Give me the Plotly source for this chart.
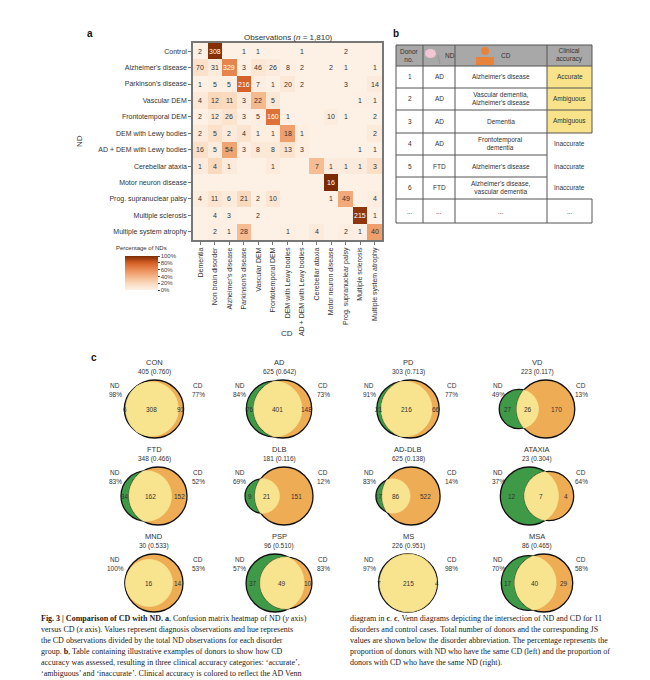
import math
import numpy as np
import plotly.graph_objects as go

# ---------------- data ----------------
cd_labels = ["Dementia", "Non brain disorder", "Alzheimer's disease", "Parkinson's disease",
             "Vascular DEM", "Frontotemporal DEM", "DEM with Lewy bodies", "AD + DEM with Lewy bodies",
             "Cerebellar ataxia", "Motor neuron disease", "Prog. supranuclear palsy",
             "Multiple sclerosis", "Multiple system atrophy"]
nd_labels = ["Control", "Alzheimer's disease", "Parkinson's disease", "Vascular DEM",
             "Frontotemporal DEM", "DEM with Lewy bodies", "AD + DEM with Lewy bodies",
             "Cerebellar ataxia", "Motor neuron disease", "Prog. supranuclear palsy",
             "Multiple sclerosis", "Multiple system atrophy"]
row_control = [2, 308, 0, 1, 1, 0, 0, 1, 0, 0, 2, 0, 0]
row_ad = [70, 31, 329, 3, 46, 26, 8, 2, 0, 2, 1, 0, 1]
row_pd = [1, 5, 5, 216, 7, 1, 20, 2, 0, 0, 3, 0, 14]
row_vd = [4, 12, 11, 3, 22, 5, 0, 0, 0, 0, 0, 1, 1]
row_ftd = [2, 12, 26, 3, 5, 160, 1, 0, 0, 10, 1, 0, 2]
row_dlb = [2, 5, 2, 4, 1, 1, 18, 1, 0, 0, 0, 0, 2]
row_addlb = [16, 5, 54, 3, 8, 8, 13, 3, 0, 0, 0, 1, 1]
row_ca = [1, 4, 1, 0, 0, 1, 0, 0, 7, 1, 1, 1, 3]
row_mnd = [0, 0, 0, 0, 0, 0, 0, 0, 0, 16, 0, 0, 0]
row_psp = [4, 11, 6, 21, 2, 10, 0, 0, 0, 1, 49, 0, 4]
row_ms = [0, 4, 3, 0, 2, 0, 0, 0, 0, 0, 0, 215, 1]
row_msa = [0, 2, 1, 28, 0, 0, 1, 0, 4, 0, 2, 1, 40]
matrix = [row_control, row_ad, row_pd, row_vd, row_ftd, row_dlb, row_addlb,
          row_ca, row_mnd, row_psp, row_ms, row_msa]
cbar_ticks = [0, 0.2, 0.4, 0.6, 0.8, 1.0]
cbar_text = ["0%", "20%", "40%", "60%", "80%", "100%"]

tbl_header = ["Donor<br>no.", "ND", "CD", "Clinical<br>accuracy"]
tbl_donor = ["1", "2", "3", "4", "5", "6", "..."]
tbl_nd = ["AD", "AD", "AD", "AD", "FTD", "FTD", "..."]
tbl_cd = ["Alzheimer's disease", "Vascular dementia,<br>Alzheimer's disease", "Dementia",
          "Frontotemporal<br>dementia", "Alzheimer's disease",
          "Alzheimer's disease,<br>vascular dementia", "..."]
tbl_acc = ["Accurate", "Ambiguous", "Ambiguous", "Inaccurate", "Inaccurate", "Inaccurate", "..."]

venn_names = ["CON", "AD", "PD", "VD", "FTD", "DLB", "AD-DLB", "ATAXIA", "MND", "PSP", "MS", "MSA"]
venn_total = [405, 625, 303, 223, 348, 181, 625, 23, 30, 96, 226, 86]
venn_js = ["0.760", "0.642", "0.713", "0.117", "0.466", "0.116", "0.138", "0.304",
           "0.533", "0.510", "0.951", "0.465"]
venn_nd_only = [6, 76, 21, 27, 34, 9, 17, 12, 0, 37, 7, 17]
venn_both = [308, 401, 216, 26, 162, 21, 86, 7, 16, 49, 215, 40]
venn_cd_only = [91, 148, 66, 170, 152, 151, 522, 4, 14, 10, 4, 29]
venn_nd_pct = ["98%", "84%", "91%", "49%", "83%", "69%", "83%", "37%", "100%", "57%", "97%", "70%"]
venn_cd_pct = ["77%", "73%", "77%", "13%", "52%", "12%", "14%", "64%", "53%", "83%", "98%", "58%"]

cap_left = [
    "<b>Fig. 3 | Comparison of CD with ND. a</b>, Confusion matrix heatmap of ND (<i>y</i> axis)",
    "versus CD (<i>x</i> axis). Values represent diagnosis observations and hue represents",
    "the CD observations divided by the total ND observations for each disorder",
    "group. <b>b</b>, Table containing illustrative examples of donors to show how CD",
    "accuracy was assessed, resulting in three clinical accuracy categories: ‘accurate’,",
    "‘ambiguous’ and ‘inaccurate’. Clinical accuracy is colored to reflect the AD Venn",
]
cap_right = [
    "diagram in <b>c</b>. <b>c</b>, Venn diagrams depicting the intersection of ND and CD for 11",
    "disorders and control cases. Total number of donors and the corresponding JS",
    "values are shown below the disorder abbreviation. The percentage represents the",
    "proportion of donors with ND who have the same CD (left) and the proportion of",
    "donors with CD who have the same ND (right).",
]

# ---------------- figure ----------------
W, H = 650, 680
def px(x): return x / W
def py(y): return 1 - y / H

M = np.array(matrix, dtype=float)
frac = M / M.sum(axis=1, keepdims=True)
scale = [[0, "#fdf1e6"], [0.2, "#fad9bd"], [0.4, "#f4b487"], [0.6, "#ea8c55"],
         [0.8, "#d45f25"], [1.0, "#7c2a05"]]

fig = go.Figure()
fig.add_trace(go.Heatmap(
    z=frac, x=list(range(len(cd_labels))), y=list(range(len(nd_labels))),
    colorscale=scale, zmin=0, zmax=1, hoverinfo="skip",
    colorbar=dict(x=px(117), xanchor="left", y=py(248), yanchor="top",
                  lenmode="pixels", len=34, thickness=33, outlinewidth=0,
                  tickvals=cbar_ticks, ticktext=cbar_text, ticks="outside", ticklen=2,
                  tickfont=dict(size=6, color="#444"), xpad=0, ypad=0)))

ann = []
shapes = []
font = "Liberation Sans"
for i, row in enumerate(matrix):
    for j, v in enumerate(row):
        if v:
            ann.append(dict(x=j, y=i, xref="x", yref="y", text=str(v), showarrow=False,
                            font=dict(size=7, color="white" if frac[i, j] > 0.55 else "#333")))

fig.update_layout(
    width=W, height=H, margin=dict(l=0, r=0, t=0, b=0), paper_bgcolor="white",
    plot_bgcolor="white", font=dict(family=font, color="#333"), showlegend=False,
    xaxis=dict(domain=[px(185), px(374)], tickvals=list(range(13)), ticktext=cd_labels,
               tickangle=-90, tickfont=dict(size=7, color="#333"), ticks="outside", ticklen=3,
               tickcolor="#777", showline=True, mirror=True, linecolor="#777", linewidth=1.5,
               range=[-0.5, 12.5], showgrid=False, zeroline=False),
    yaxis=dict(domain=[py(232), py(35)], tickvals=list(range(12)), ticktext=nd_labels,
               tickfont=dict(size=7, color="#333"), ticks="outside", ticklen=3, autorange="reversed",
               tickcolor="#777", showline=True, mirror=True, linecolor="#777", linewidth=1.5,
               showgrid=False, zeroline=False),
)

def txt(x, y, t, size=7, color="#333", xanchor="center", bold=False, fam=None, **kw):
    ann.append(dict(x=px(x), y=py(y), xref="paper", yref="paper", text=f"<b>{t}</b>" if bold else t,
                    showarrow=False, xanchor=xanchor, yanchor="middle",
                    font=dict(size=size, color=color, family=fam or font), **kw))

def rect(x0, y0, x1, y1, **kw):
    shapes.append(dict(type="rect", xref="paper", yref="paper", x0=px(x0), x1=px(x1),
                       y0=py(y0), y1=py(y1), **kw))

def circ(x0, y0, x1, y1, **kw):
    shapes.append(dict(type="circle", xref="paper", yref="paper", x0=px(x0), x1=px(x1),
                       y0=py(y0), y1=py(y1), **kw))

txt(82, 26, "a", 10, "#111", bold=True)
txt(388, 26, "b", 10, "#111", bold=True)
txt(86, 350, "c", 10, "#111", bold=True)
txt(280, 30, "Observations (<i>n</i> = 1,810)", 8)
txt(72, 133, "ND", 8, textangle=-90)
txt(279, 325, "CD", 8)
txt(106, 240, "Percentage of NDs", 6, xanchor="left")

# ---------------- table ----------------
cx = [388, 415, 447, 539, 584]
ry = [37, 58, 80, 102, 125, 147, 169, 191, 215]
lc = "#555"
rect(cx[0], ry[0], cx[4], ry[1], fillcolor="#a8a8a8", line=dict(width=0), layer="below")
for r in range(1, 4):
    rect(cx[3], ry[r], cx[4], ry[r + 1], fillcolor="#f8e38b", line=dict(width=0), layer="below")
def ln(x0, y0, x1, y1, w=1, color=lc):
    shapes.append(dict(type="line", xref="paper", yref="paper", x0=px(x0), y0=py(y0),
                       x1=px(x1), y1=py(y1), line=dict(color=color, width=w)))
for k, y in enumerate(ry):
    right = cx[4] if (k <= 4 or k >= 7) else cx[3]
    ln(cx[0], y, right, y)
for k, x in enumerate(cx):
    if k == 4:
        ln(x, ry[0], x, ry[4]); ln(x, ry[7], x, ry[8])
    else:
        ln(x, ry[0], x, ry[8])
hy = (ry[0] + ry[1]) / 2
txt((cx[0] + cx[1]) / 2, hy, tbl_header[0], 6.5)
txt(435, hy, tbl_header[1], 6.5, xanchor="left")
txt(491, hy, tbl_header[2], 6.5, xanchor="left")
txt((cx[3] + cx[4]) / 2, hy, tbl_header[3], 6.5)
circ(417, 41, 428, 50, fillcolor="#f3c6d3", line=dict(width=0))
ln(430, 47, 432, 56, 1.2, "#999")
circ(473, 39, 481, 47, fillcolor="#e8833b", line=dict(width=0))
rect(468, 49, 486, 57, fillcolor="#e8833b", line=dict(width=0))
for r in range(7):
    yc = (ry[r + 1] + ry[r + 2]) / 2
    txt((cx[0] + cx[1]) / 2, yc, tbl_donor[r], 6.5)
    txt((cx[1] + cx[2]) / 2, yc, tbl_nd[r], 6.5)
    txt((cx[2] + cx[3]) / 2, yc, tbl_cd[r], 6.5)
    txt((cx[3] + cx[4]) / 2, yc, tbl_acc[r], 6.5)

# ---------------- venn ----------------
col_x = [146, 271, 400, 529]
row_t = [354, 441, 528]
GREEN, ORANGE, YEL = "#3e9a46", "#eead55", "#f8e48f"
R = 29

def lens_area(r1, r2, d):
    if d >= r1 + r2: return 0.0
    if d <= abs(r1 - r2): return math.pi * min(r1, r2) ** 2
    a1 = r1 * r1 * math.acos((d * d + r1 * r1 - r2 * r2) / (2 * d * r1))
    a2 = r2 * r2 * math.acos((d * d + r2 * r2 - r1 * r1) / (2 * d * r2))
    a3 = 0.5 * math.sqrt((-d + r1 + r2) * (d + r1 - r2) * (d - r1 + r2) * (d + r1 + r2))
    return a1 + a2 - a3

for k in range(12):
    c = col_x[k % 4]; t = row_t[k // 4]; yc = t + 47
    nd = venn_nd_only[k] + venn_both[k]; cdn = venn_cd_only[k] + venn_both[k]
    mx = max(nd, cdn); mn = min(nd, cdn)
    r1 = R * (nd / mx) ** 0.3; r2 = R * (cdn / mx) ** 0.3
    target = math.pi * min(r1, r2) ** 2 * venn_both[k] / mn
    lo, hi = abs(r1 - r2), r1 + r2
    if venn_both[k] >= mn:
        d = abs(r1 - r2)
    else:
        for _ in range(60):
            mid = (lo + hi) / 2
            if lens_area(r1, r2, mid) > target: lo = mid
            else: hi = mid
        d = (lo + hi) / 2
    left = -r1; right = d + r2
    off = c - (left + right) / 2
    x1 = off; x2 = off + d
    circ(x1 - r1, yc - r1, x1 + r1, yc + r1, fillcolor=GREEN, line=dict(color="#111", width=1.3))
    circ(x2 - r2, yc - r2, x2 + r2, yc + r2, fillcolor=ORANGE, line=dict(color="#111", width=1.3))
    if d <= abs(r1 - r2) + 1e-9:
        rs, xs = (r1, x1) if r1 <= r2 else (r2, x2)
        rs -= 0.6
        pts = [(xs + rs * math.cos(a), yc + rs * math.sin(a)) for a in np.linspace(0, 2 * math.pi, 80)]
        lens_l, lens_r = xs - rs, xs + rs
    else:
        a = (d * d + r1 * r1 - r2 * r2) / (2 * d)
        h = math.sqrt(max(r1 * r1 - a * a, 0))
        al = math.atan2(h, a); be = math.atan2(h, d - a)
        pts = [(x1 + r1 * math.cos(t_), yc + r1 * math.sin(t_)) for t_ in np.linspace(al, -al, 50)]
        pts += [(x2 + r2 * math.cos(t_), yc + r2 * math.sin(t_)) for t_ in np.linspace(math.pi + be, math.pi - be, 50)]
        lens_l, lens_r = x2 - r2, x1 + r1
    path = "M " + " L ".join(f"{px(p[0]):.5f},{py(p[1]):.5f}" for p in pts) + " Z"
    shapes.append(dict(type="path", xref="paper", yref="paper", path=path, fillcolor=YEL,
                       line=dict(color=YEL, width=0.8)))
    txt(c, t, venn_names[k], 7.5)
    txt(c, t + 10, f"{venn_total[k]} ({venn_js[k]})", 6.5)
    txt(c - 39, t + 23, "ND", 6.5); txt(c - 39, t + 32, venn_nd_pct[k], 6.5)
    txt(c + 44, t + 23, "CD", 6.5); txt(c + 44, t + 32, venn_cd_pct[k], 6.5)
    if venn_nd_only[k]:
        txt(((x1 - r1) + lens_l) / 2, yc, str(venn_nd_only[k]), 6.5)
    txt((lens_l + lens_r) / 2, yc, str(venn_both[k]), 6.5)
    if venn_cd_only[k]:
        txt((lens_r + x2 + r2) / 2, yc, str(venn_cd_only[k]), 6.5)

# ---------------- caption ----------------
for i, s in enumerate(cap_left):
    txt(31, 610 + 11 * i, s, 8, "#222", xanchor="left", fam="Liberation Serif")
for i, s in enumerate(cap_right):
    txt(340, 610 + 11 * i, s, 8, "#222", xanchor="left", fam="Liberation Serif")

fig.update_layout(annotations=ann, shapes=shapes)
fig.write_html("out.html")
